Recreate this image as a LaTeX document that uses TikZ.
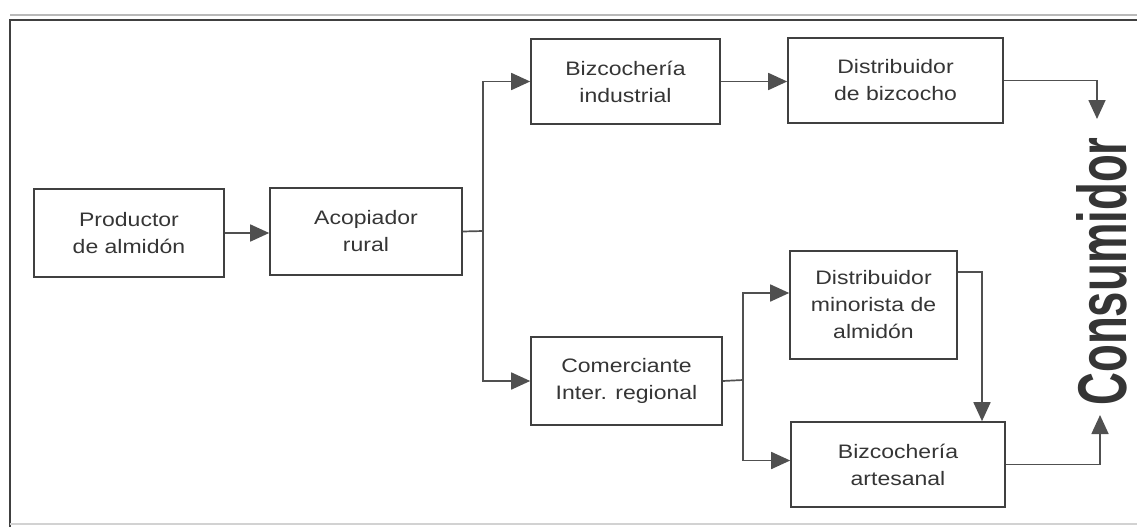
\documentclass[tikz,border=0pt]{standalone}
\usepackage{fontspec}
\setmainfont{Liberation Sans}
\newfontfamily\boxfont{Liberation Sans}[FakeStretch=1.18]
\newfontfamily\consfont{Liberation Sans}[FakeStretch=0.66]
\usetikzlibrary{arrows.meta}
\definecolor{inkbox}{HTML}{404040}
\definecolor{inkline}{HTML}{505050}
\definecolor{inktext}{HTML}{353535}
\tikzset{
  stagebox/.style={draw=inkbox, line width=1.6pt, align=center, inner sep=0pt,
    font=\boxfont\fontsize{19.5}{27}\selectfont, text=inktext},
  flow/.style={draw=inkline, line width=1.7pt},
  flowarrow/.style={flow, -{Triangle[length=19pt,width=17pt]}},
}
\begin{document}
\begin{tikzpicture}[x=1pt,y=-1pt]
\useasboundingbox (0,0) rectangle (1137,527);

% outer frame (top and left edges, faint bottom edge)
\draw[gray!55, line width=2.5pt] (10,15) -- (1137,15);
\draw[inkbox, line width=1.6pt] (10,527) -- (10,20) -- (1137,20);
\draw[gray!35, line width=1.2pt] (10,524) -- (1137,524);

% stages of the chain
\node[stagebox, minimum width=190pt, minimum height=88pt] (prod) at (129,233)   {Productor\\de almidón};
\node[stagebox, minimum width=192pt, minimum height=87pt] (acop) at (366,231.5) {Acopiador\\rural};
\node[stagebox, minimum width=189pt, minimum height=85pt] (bind) at (625.5,81.5) {Bizcochería\\industrial};
\node[stagebox, minimum width=215pt, minimum height=85pt] (dbiz) at (895.5,80.5) {Distribuidor\\de bizcocho};
\node[stagebox, minimum width=191pt, minimum height=88pt] (com)  at (626.5,381) {Comerciante\\Inter. regional};
\node[stagebox, minimum width=167pt, minimum height=108pt] (dmin) at (873.5,305) {Distribuidor\\minorista de\\almidón};
\node[stagebox, minimum width=214pt, minimum height=85pt] (bart) at (898,464.5) {Bizcochería\\artesanal};

% final consumer
\node[rotate=90, inner sep=0pt, text=inktext, font=\consfont\bfseries\fontsize{69}{69}\selectfont]
  (cons) at (1102,271.5) {Consumidor};

% junctions and arrow ends
\coordinate (split1) at (483,231);
\coordinate (split2) at (743,380);
\coordinate (cTop) at (1097,119);
\coordinate (cBot) at (1100,415);

% connectors
\draw[flowarrow] (prod.east) -- (prod.east -| acop.west);
\draw[flow] (acop.east) -- (split1);
\draw[flowarrow] (split1) |- (bind.west);
\draw[flowarrow] (split1) |- (com.west);
\draw[flowarrow] (bind.east) -- (bind.east -| dbiz.west);
\draw[flowarrow] (dbiz.east) -| (cTop);
\draw[flow] (com.east) -- (split2);
\draw[flowarrow] (split2) |- ([yshift=12pt]dmin.west);
\draw[flowarrow] (split2) |- ([yshift=4pt]bart.west);
\draw[flowarrow] ([yshift=33pt]dmin.east) -| ([xshift=84pt]bart.north);
\draw[flowarrow] (bart.east) -| (cBot);
\end{tikzpicture}
\end{document}
